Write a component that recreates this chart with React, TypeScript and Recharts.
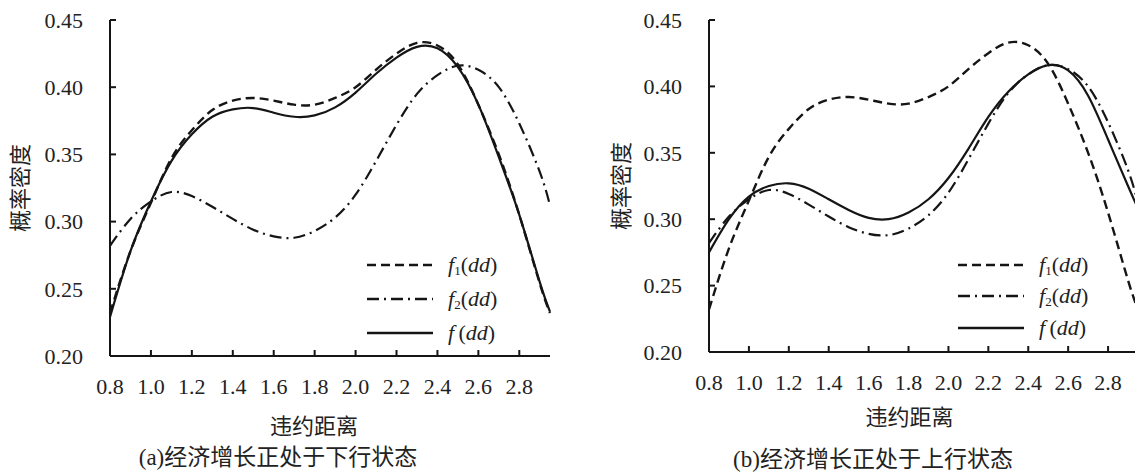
import { Legend, Line, LineChart, XAxis, YAxis } from "recharts"

// 违约距离 (distance to default)
const dd = [0.8, 0.9, 1.0, 1.1, 1.2, 1.3, 1.4, 1.5, 1.6, 1.7, 1.8, 1.9, 2.0, 2.1, 2.2, 2.3, 2.4, 2.5, 2.6, 2.7, 2.8, 2.9, 2.95]

// f1(dd) – same in both panels
const f1 = [0.232, 0.278, 0.314, 0.347, 0.368, 0.383, 0.39, 0.392, 0.39, 0.387, 0.387, 0.392, 0.4, 0.413, 0.425, 0.433, 0.431, 0.417, 0.387, 0.35, 0.305, 0.254, 0.232]
// f2(dd) – same in both panels
const f2 = [0.282, 0.302, 0.315, 0.322, 0.319, 0.311, 0.302, 0.294, 0.289, 0.288, 0.293, 0.303, 0.32, 0.345, 0.372, 0.395, 0.409, 0.416, 0.413, 0.4, 0.373, 0.337, 0.312]
// f(dd) while growth is going down / going up
const fDown = [0.229, 0.278, 0.315, 0.345, 0.365, 0.378, 0.3835, 0.3845, 0.381, 0.378, 0.379, 0.385, 0.396, 0.41, 0.422, 0.43, 0.429, 0.415, 0.387, 0.348, 0.305, 0.255, 0.233]
const fUp = [0.275, 0.3, 0.317, 0.325, 0.327, 0.323, 0.315, 0.307, 0.301, 0.3, 0.305, 0.315, 0.331, 0.353, 0.377, 0.396, 0.409, 0.416, 0.412, 0.393, 0.36, 0.325, 0.308]

const xTicks = [0.8, 1.0, 1.2, 1.4, 1.6, 1.8, 2.0, 2.2, 2.4, 2.6, 2.8]
const yTicks = [0.2, 0.25, 0.3, 0.35, 0.4, 0.45]

const serif = "Liberation Serif"
const cjk = "Noto Sans CJK SC"
const ink = "#151515"

const series = [
  { key: "f1", sub: "1", dash: "9 5", width: 2.4 },
  { key: "f2", sub: "2", dash: "12 5 2 5", width: 2.2 },
  { key: "f", sub: "", dash: undefined, width: 2.2 },
]

const YTick = (props: any) => {
  const { x, y, payload } = props
  return (
    <g>
      <line x1={x + 27} x2={x + 33} y1={y} y2={y} stroke={ink} strokeWidth={2} />
      <text x={x} y={y} dy="0.35em" textAnchor="end" fontFamily={serif} fontSize={22} fill="#222">
        {Number(payload.value).toFixed(2)}
      </text>
    </g>
  )
}

const XTick = (props: any) => {
  const { x, y, payload } = props
  return (
    <g>
      <line x1={x} x2={x} y1={y - 22} y2={y - 28} stroke={ink} strokeWidth={2} />
      <text x={x} y={y} dy="0.71em" textAnchor="middle" fontFamily={serif} fontSize={22} fill="#222">
        {Number(payload.value).toFixed(1)}
      </text>
    </g>
  )
}

function renderLegend(rowHeight: number) {
  return () => (
    <div>
      {series.map((s) => (
        <div key={s.key} style={{ display: "flex", alignItems: "center", height: rowHeight }}>
          <svg width={66} height={6} style={{ marginRight: 15 }}>
            <line x1={0} x2={66} y1={3} y2={3} stroke={ink} strokeWidth={2.6} strokeDasharray={s.dash} />
          </svg>
          <span style={{ fontFamily: serif, fontSize: 22, color: "#222", lineHeight: 1 }}>
            <i>f</i>
            {s.sub && <span style={{ fontSize: 13, position: "relative", top: 3 }}>{s.sub}</span>}
            {s.sub ? "" : "\u2009"}(<i>dd</i>)
          </span>
        </div>
      ))}
    </div>
  )
}

type PanelProps = {
  f: number[]
  left: number
  width: number
  axisWidth: number
  plotRight: number
  bottom: number
  yTitleOffset: number
  xTitleDx: number
  xTitleOffset: number
  legendLeft: number
  legendTop: number
  legendRow: number
  caption: string
  captionX: number
  captionTop: number
}

function Panel(p: PanelProps) {
  const data = dd.map((x, i) => ({ dd: x, f1: f1[i], f2: f2[i], f: p.f[i] }))
  return (
    <div style={{ position: "absolute", left: p.left, top: 0 }}>
      <LineChart
        width={p.width}
        height={474}
        data={data}
        margin={{ top: 20, right: p.width - p.plotRight, bottom: 474 - p.bottom - 60, left: 0 }}
      >
        <XAxis
          dataKey="dd"
          type="number"
          domain={[0.8, 2.95]}
          ticks={xTicks}
          height={60}
          tickSize={0}
          tickMargin={22}
          tick={<XTick />}
          axisLine={{ stroke: ink, strokeWidth: 2 }}
          label={{
            value: "违约距离",
            position: "bottom",
            offset: p.xTitleOffset,
            dx: p.xTitleDx,
            fontSize: 22,
            fill: "#222",
            style: { fontFamily: cjk },
          }}
        />
        <YAxis
          type="number"
          domain={[0.2, 0.45]}
          ticks={yTicks}
          width={p.axisWidth}
          tickSize={0}
          tickMargin={27}
          tick={<YTick />}
          axisLine={{ stroke: ink, strokeWidth: 2 }}
          label={{
            value: "概率密度",
            angle: -90,
            position: "insideLeft",
            offset: p.yTitleOffset,
            fontSize: 22,
            fill: "#222",
            style: { textAnchor: "middle", fontFamily: cjk },
          }}
        />
        <Legend
          layout="vertical"
          align="center"
          verticalAlign="middle"
          wrapperStyle={{ left: p.legendLeft, top: p.legendTop, width: "auto" }}
          content={renderLegend(p.legendRow)}
        />
        {series.map((s) => (
          <Line
            key={s.key}
            type="natural"
            dataKey={s.key}
            stroke={ink}
            strokeWidth={s.width}
            strokeDasharray={s.dash}
            dot={false}
            activeDot={false}
            isAnimationActive={false}
          />
        ))}
      </LineChart>
      <div
        style={{
          position: "absolute",
          left: p.captionX - 200,
          width: 400,
          top: p.captionTop,
          height: 24,
          lineHeight: "24px",
          textAlign: "center",
          fontFamily: cjk,
          fontSize: 23,
          color: "#222",
          whiteSpace: "nowrap",
        }}
      >
        <span style={{ fontFamily: serif }}>{p.caption.slice(0, 3)}</span>
        {p.caption.slice(3)}
      </div>
    </div>
  )
}

export default function App() {
  return (
    <div style={{ position: "absolute", left: 0, top: 0, width: 1135, height: 474, overflow: "hidden", background: "#fff" }}>
      <Panel
        f={fDown}
        left={0}
        width={560}
        axisWidth={110}
        plotRight={550}
        bottom={356}
        yTitleOffset={20}
        xTitleDx={-16}
        xTitleOffset={2}
        legendLeft={367}
        legendTop={248}
        legendRow={34}
        caption="(a)经济增长正处于下行状态"
        captionX={278}
        captionTop={443}
      />
      <Panel
        f={fUp}
        left={575}
        width={575}
        axisWidth={134}
        plotRight={563}
        bottom={352}
        yTitleOffset={46}
        xTitleDx={-14}
        xTitleOffset={-3}
        legendLeft={383}
        legendTop={249}
        legendRow={31.5}
        caption="(b)经济增长正处于上行状态"
        captionX={298}
        captionTop={445}
      />
    </div>
  )
}
